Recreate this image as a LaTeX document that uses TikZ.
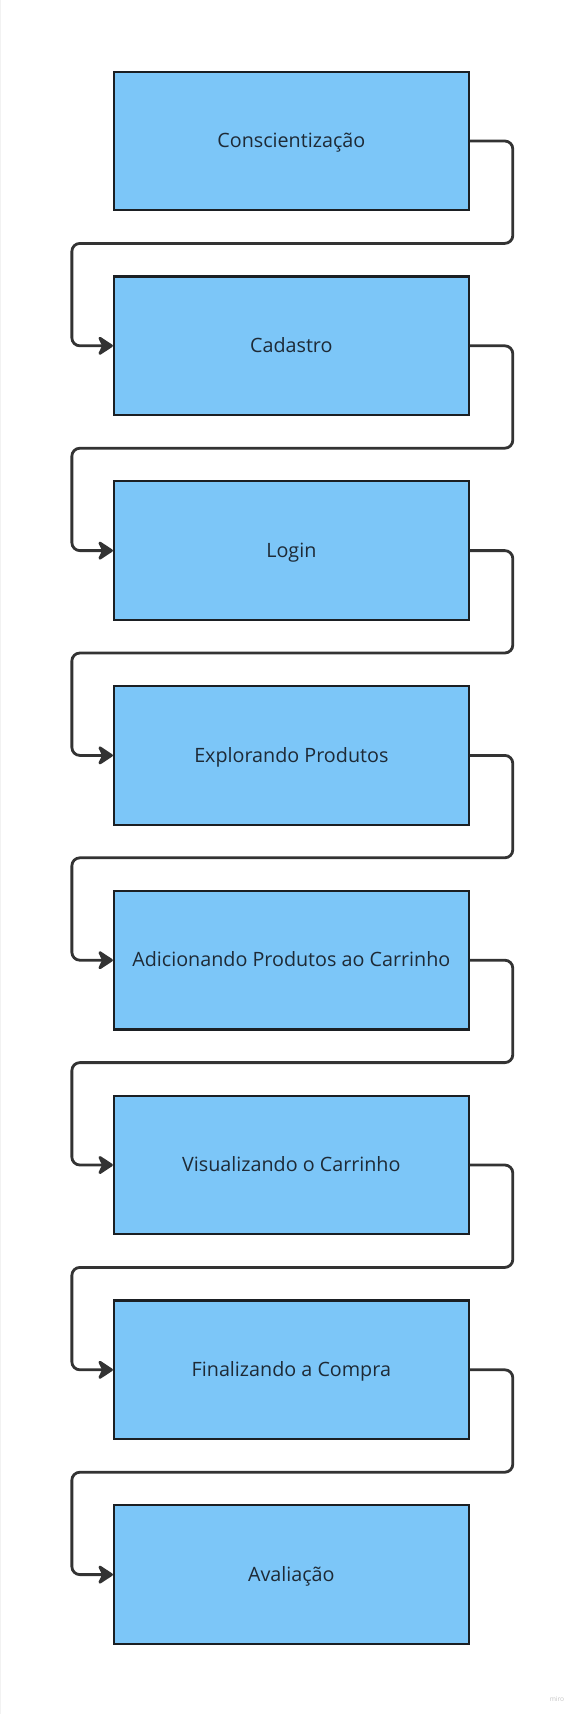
\documentclass[tikz,border=0pt]{standalone}
\usepackage{fontspec}
\setmainfont{Open Sans}
\usetikzlibrary{calc,positioning,arrows.meta}
\definecolor{caixa}{HTML}{7CC6F8}
\definecolor{borda}{HTML}{1B1F23}
\definecolor{seta}{HTML}{333333}
\definecolor{texto}{HTML}{1E2A36}
\tikzset{
  etapa/.style={draw=borda, line width=1.7pt, fill=caixa, minimum width=266pt,
    minimum height=104pt, inner sep=0pt, text height=11pt, text depth=1pt,
    text=texto, font=\fontsize{14.8}{17}\selectfont},
  fluxo/.style={draw=seta, line width=2.1pt, rounded corners=6pt,
    -{Stealth[length=13pt, width=17pt, inset=4pt, round]}}
}
\newcommand{\proxima}[2]
	{
	\coordinate (tempa) at ($(#1.south west)!0.5!(#2.north west)+(-30.75pt,0)$);%volta
	\draw[fluxo] (#1.east) -- ++(32.25pt,0) |- (tempa) |- (#2.west);
	}

\begin{document}
\begin{tikzpicture}
    \useasboundingbox[fill=white] (0,0) rectangle (437.25pt,-1285.5pt);
    \draw[gray!10, line width=0.6pt] (0.5pt,0) -- (0.5pt,-1285.5pt);
    \node[etapa] (conscientizacao) at (218.5pt,-105.75pt) {Conscientização};
    \node[etapa, below=47.9pt of conscientizacao] (cadastro) {Cadastro};
    \node[etapa, below=47.9pt of cadastro] (login) {Login};
    \node[etapa, below=47.9pt of login] (explorando) {Explorando Produtos};
    \node[etapa, below=47.9pt of explorando] (adicionando) {Adicionando Produtos ao Carrinho};
    \node[etapa, below=47.9pt of adicionando] (visualizando) {Visualizando o Carrinho};
    \node[etapa, below=47.9pt of visualizando] (finalizando) {Finalizando a Compra};
    \node[etapa, below=47.9pt of finalizando] (avaliacao) {Avaliação};

    % setas
    \proxima{conscientizacao}{cadastro}
    \proxima{cadastro}{login}
    \proxima{login}{explorando}
    \proxima{explorando}{adicionando}
    \proxima{adicionando}{visualizando}
    \proxima{visualizando}{finalizando}
    \proxima{finalizando}{avaliacao}

    \node[text=gray!45, font=\fontsize{5}{6}\selectfont] (marca) at (417.75pt,-1274.25pt) {miro};
\end{tikzpicture}
\end{document}
